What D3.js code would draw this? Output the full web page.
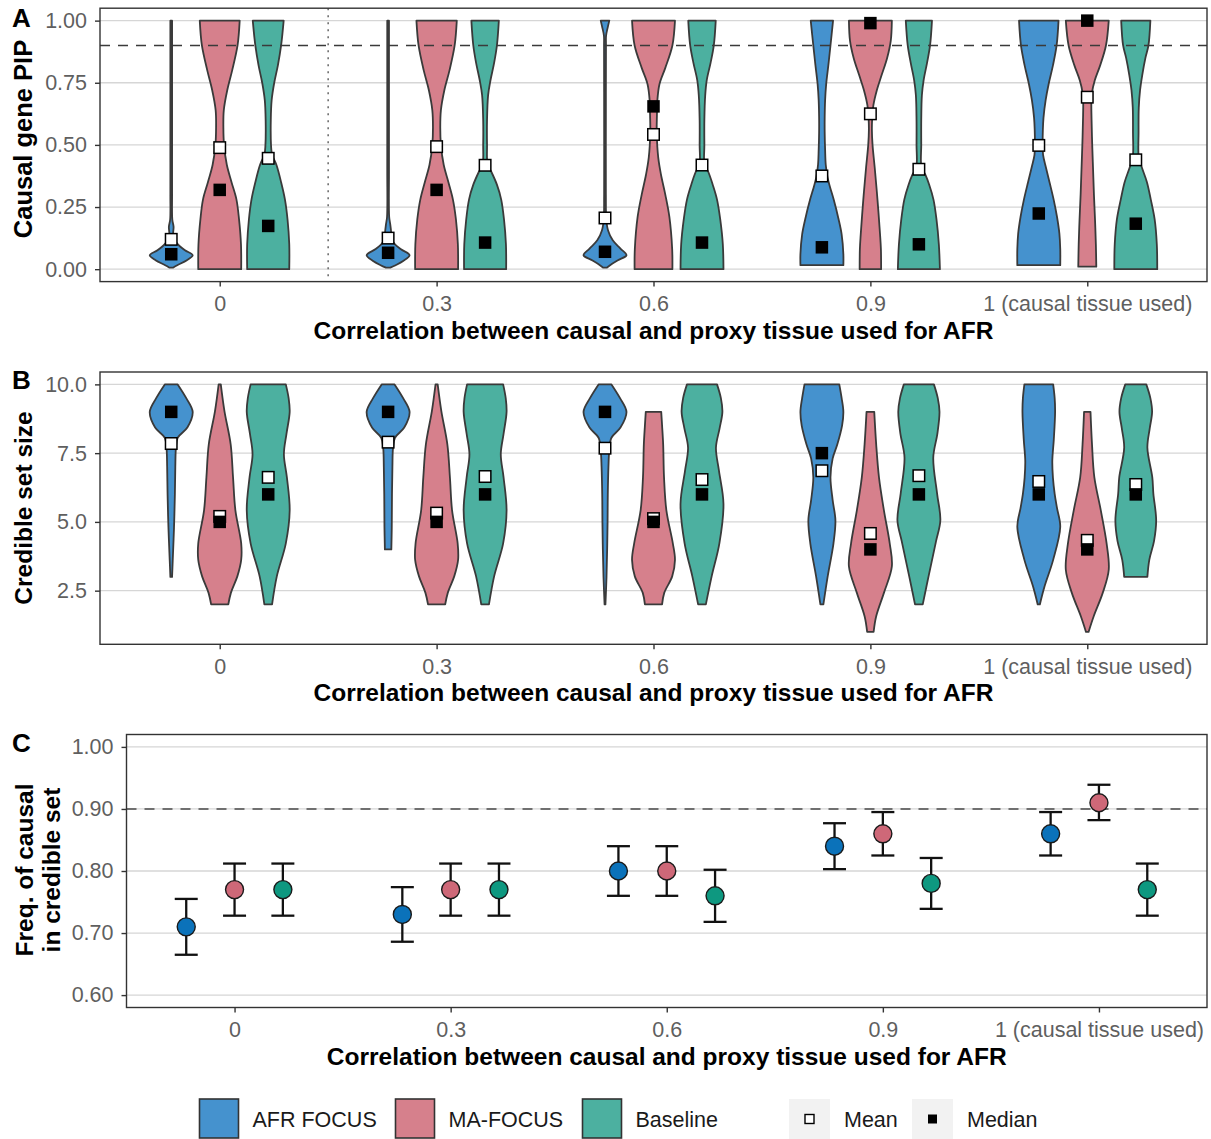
<!DOCTYPE html>
<html>
<head>
<meta charset="utf-8">
<title>FOCUS simulations: proxy tissue correlation</title>
<script src="https://cdn.jsdelivr.net/npm/d3@7/dist/d3.min.js"></script>
<style>
  html, body { margin: 0; padding: 0; background: #ffffff; }
  svg { display: block; }
</style>
</head>
<body>
<svg id="fig" width="1211" height="1139"></svg>
<script>
// ---------------------------------------------------------------- data
const categories = ["0", "0.3", "0.6", "0.9", "1 (causal tissue used)"];
const seriesNames = ["AFR FOCUS", "MA-FOCUS", "Baseline"];
const statNames = ["Mean", "Median"];
const xAxisTitle = "Correlation between causal and proxy tissue used for AFR";

const pipTicks = [0, 0.25, 0.5, 0.75, 1];
const pipTickLabels = ["0.00", "0.25", "0.50", "0.75", "1.00"];
const sizeTicks = [2.5, 5, 7.5, 10];
const sizeTickLabels = ["2.5", "5.0", "7.5", "10.0"];
const freqTicks = [0.6, 0.7, 0.8, 0.9, 1];
const freqTickLabels = ["0.60", "0.70", "0.80", "0.90", "1.00"];
const pipThreshold = 0.9;
const coverageTarget = 0.9;

// Panel A: causal gene PIP. Violin outlines as [PIP, relative half-width].
const pipAfr = [
  [[0.006,0.08],[0.016,0.28],[0.036,0.73],[0.056,1],[0.076,0.64],[0.103,0.28],[0.125,0.14],[0.143,0.09],[0.17,0.11],[0.2,0.05],[0.3,0.04],[0.5,0.04],[0.7,0.04],[0.9,0.04],[1,0.04]],
  [[0.006,0.1],[0.016,0.35],[0.033,0.7],[0.056,1],[0.08,0.6],[0.1,0.32],[0.12,0.16],[0.15,0.14],[0.18,0.1],[0.21,0.05],[0.4,0.04],[0.7,0.04],[1,0.04]],
  [[0.006,0.08],[0.02,0.3],[0.036,0.6],[0.056,1],[0.083,0.72],[0.116,0.36],[0.157,0.14],[0.2,0.06],[0.3,0.04],[0.6,0.04],[0.9,0.045],[0.94,0.05],[0.97,0.12],[1,0.2]],
  [[0.016,1],[0.06,1],[0.14,0.92],[0.2,0.78],[0.28,0.55],[0.33,0.38],[0.37,0.26],[0.42,0.18],[0.48,0.15],[0.55,0.13],[0.61,0.13],[0.68,0.15],[0.745,0.2],[0.82,0.3],[0.9,0.4],[1,0.52]],
  [[0.016,1],[0.08,1],[0.143,0.96],[0.21,0.85],[0.277,0.7],[0.35,0.5],[0.41,0.33],[0.46,0.2],[0.505,0.18],[0.56,0.19],[0.61,0.22],[0.68,0.32],[0.745,0.46],[0.82,0.66],[0.9,0.83],[1,0.92]]
];
const pipMa = [
  [[0,1],[0.1,0.99],[0.2,0.9],[0.28,0.78],[0.35,0.55],[0.42,0.33],[0.5,0.2],[0.57,0.17],[0.64,0.19],[0.72,0.35],[0.8,0.58],[0.9,0.83],[1,0.93]],
  [[0,1],[0.1,0.99],[0.2,0.9],[0.28,0.76],[0.35,0.55],[0.42,0.33],[0.5,0.2],[0.57,0.17],[0.64,0.2],[0.72,0.36],[0.8,0.6],[0.9,0.84],[1,0.94]],
  [[0,0.88],[0.08,0.87],[0.21,0.74],[0.3,0.55],[0.38,0.35],[0.45,0.22],[0.55,0.15],[0.62,0.16],[0.68,0.18],[0.745,0.28],[0.81,0.55],[0.9,0.88],[1,1]],
  [[0,0.5],[0.08,0.49],[0.14,0.45],[0.28,0.33],[0.41,0.2],[0.5,0.1],[0.56,0.07],[0.6,0.08],[0.66,0.14],[0.72,0.3],[0.78,0.52],[0.85,0.78],[0.92,0.95],[1,1]],
  [[0.01,0.42],[0.1,0.4],[0.2,0.36],[0.3,0.31],[0.4,0.27],[0.5,0.23],[0.6,0.2],[0.67,0.19],[0.71,0.22],[0.76,0.35],[0.82,0.6],[0.9,0.87],[1,1]]
];
const pipBase = [
  [[0,0.98],[0.1,0.98],[0.2,0.9],[0.28,0.78],[0.35,0.6],[0.42,0.38],[0.46,0.18],[0.5,0.13],[0.6,0.12],[0.68,0.16],[0.75,0.28],[0.82,0.45],[0.9,0.6],[1,0.72]],
  [[0,0.98],[0.1,0.97],[0.2,0.88],[0.28,0.75],[0.34,0.55],[0.39,0.3],[0.42,0.12],[0.5,0.09],[0.6,0.09],[0.7,0.14],[0.76,0.25],[0.83,0.42],[0.9,0.55],[1,0.64]],
  [[0,1],[0.1,0.97],[0.2,0.85],[0.28,0.7],[0.34,0.5],[0.39,0.3],[0.42,0.12],[0.5,0.11],[0.6,0.11],[0.7,0.15],[0.76,0.22],[0.83,0.4],[0.9,0.55],[1,0.64]],
  [[0,0.98],[0.1,0.93],[0.2,0.82],[0.28,0.68],[0.34,0.48],[0.38,0.3],[0.41,0.12],[0.5,0.11],[0.6,0.11],[0.7,0.14],[0.76,0.22],[0.83,0.38],[0.9,0.52],[1,0.61]],
  [[0,1],[0.1,0.98],[0.2,0.88],[0.28,0.7],[0.35,0.52],[0.41,0.28],[0.45,0.14],[0.55,0.13],[0.65,0.14],[0.72,0.2],[0.78,0.3],[0.85,0.45],[0.9,0.59],[1,0.68]]
];
const pipMeanAfr = [0.12, 0.125, 0.206, 0.375, 0.498];
const pipMeanMa = [0.489, 0.493, 0.542, 0.625, 0.692];
const pipMeanBase = [0.446, 0.418, 0.419, 0.402, 0.44];
const pipMedianAfr = [0.06, 0.066, 0.07, 0.088, 0.224];
const pipMedianMa = [0.319, 0.319, 0.655, 0.99, 1.0];
const pipMedianBase = [0.174, 0.107, 0.107, 0.1, 0.183];

// Panel B: credible set size. Violin outlines as [size, relative half-width].
const sizeAfr = [
  [[3,0.04],[3.6,0.07],[4.8,0.13],[6,0.17],[7,0.19],[7.7,0.22],[8.06,0.3],[8.43,0.75],[9,1],[9.5,0.7],[10,0.3]],
  [[4,0.15],[4.8,0.17],[6,0.18],[7,0.2],[7.7,0.23],[8.06,0.32],[8.43,0.75],[9,1],[9.5,0.7],[10,0.3]],
  [[2,0.02],[3,0.07],[4,0.1],[5,0.12],[6,0.13],[7,0.16],[7.6,0.2],[8.06,0.3],[8.43,0.72],[9,1],[9.5,0.7],[10,0.3]],
  [[2,0.07],[3.02,0.27],[4.22,0.54],[5.06,0.63],[5.8,0.5],[6.62,0.4],[7.3,0.5],[7.82,0.72],[8.5,0.94],[9,1],[9.5,0.92],[10,0.81]],
  [[2,0.05],[2.66,0.27],[3.62,0.67],[4.82,1],[5.5,0.85],[6.02,0.74],[6.6,0.66],[7.22,0.63],[8,0.7],[9,0.76],[9.5,0.74],[10,0.67]]
];
const sizeMa = [
  [[2,0.4],[2.42,0.52],[3.02,0.82],[3.62,1],[4.22,1],[5.42,0.73],[6.62,0.62],[7.82,0.51],[9.03,0.22],[10,0.05]],
  [[2,0.4],[2.42,0.52],[3.02,0.82],[3.62,1],[4.22,0.98],[5.42,0.72],[6.62,0.62],[7.82,0.5],[9.03,0.22],[10,0.05]],
  [[2,0.4],[2.42,0.5],[3.02,0.87],[3.62,1],[4.22,0.9],[5.42,0.6],[6.62,0.49],[7.82,0.45],[8.5,0.4],[9,0.36]],
  [[1,0.15],[1.57,0.27],[2.42,0.63],[3.38,1],[4.22,0.9],[5.42,0.63],[6.62,0.4],[7.82,0.27],[9,0.18]],
  [[1,0.06],[1.57,0.3],[2.42,0.72],[3.26,1],[4.22,0.9],[5.42,0.63],[6.62,0.33],[7.82,0.22],[9,0.15]]
];
const sizeBase = [
  [[2,0.18],[3.02,0.4],[4.22,0.82],[5.42,1],[6.62,0.87],[7.46,0.73],[8.2,0.85],[9,1],[9.5,0.95],[10,0.82]],
  [[2,0.18],[3.02,0.42],[4.22,0.84],[5.42,1],[6.62,0.86],[7.46,0.73],[8.2,0.86],[9,1],[9.5,0.96],[10,0.84]],
  [[2,0.18],[3.02,0.45],[4.22,0.81],[5.66,1],[6.86,0.79],[7.7,0.65],[8.4,0.82],[9,0.95],[9.5,0.88],[10,0.7]],
  [[2,0.18],[3.02,0.45],[4.3,0.8],[5.06,1],[6.02,0.85],[7.34,0.67],[8.2,0.86],[9,0.96],[9.5,0.88],[10,0.7]],
  [[3,0.54],[3.62,0.63],[4.3,0.85],[5.06,0.95],[6.02,0.82],[6.62,0.77],[7.7,0.54],[8.4,0.65],[9,0.76],[9.5,0.68],[10,0.49]]
];
const sizeMeanAfr = [7.85, 7.9, 7.68, 6.86, 6.47];
const sizeMeanMa = [5.2, 5.32, 5.12, 4.58, 4.33];
const sizeMeanBase = [6.62, 6.65, 6.54, 6.68, 6.36];
const sizeMedianAfr = [9, 9, 9, 7.5, 6];
const sizeMedianMa = [5, 5, 5, 4, 4];
const sizeMedianBase = [6, 6, 6, 6, 6];

// Panel C: frequency of the causal gene in the credible set, with 95% intervals.
const freqAfr = [0.71, 0.73, 0.80, 0.84, 0.86];
const freqAfrLow = [0.665, 0.686, 0.760, 0.803, 0.825];
const freqAfrHigh = [0.755, 0.774, 0.840, 0.877, 0.895];
const freqMa = [0.77, 0.77, 0.80, 0.86, 0.91];
const freqMaLow = [0.728, 0.728, 0.760, 0.825, 0.882];
const freqMaHigh = [0.812, 0.812, 0.840, 0.895, 0.939];
const freqBase = [0.77, 0.77, 0.76, 0.78, 0.77];
const freqBaseLow = [0.728, 0.728, 0.718, 0.739, 0.728];
const freqBaseHigh = [0.812, 0.812, 0.802, 0.821, 0.812];

// ---------------------------------------------------------------- style
const FONT = "'Liberation Sans', Arial, Helvetica, sans-serif";
const fills = ["#4592CE", "#D6808C", "#4CB0A0"];
const dotFills = ["#0B72BA", "#CE6878", "#0E9880"];
const INK = "#333333";
const GRID = "#D6D6D6";
const TICK_TEXT = "#5f5f5f";
const TICK_SIZE = 21.5;
const TITLE_SIZE = 24.5;

const svg = d3.select("#fig").style("font-family", FONT);

// shared frame: grid, axes, border; returns scales
function makeFrame(o) {
  const span = o.hi - o.lo;
  const y = d3.scaleLinear()
    .domain([o.lo - 0.05 * span, o.hi + 0.05 * span])
    .range([o.bottom, o.top]);
  const x = d3.scalePoint().domain(categories)
    .range([o.left, o.right]).padding(o.pad);
  const dodge = d3.scalePoint().domain(seriesNames)
    .range([-0.2236 * x.step(), 0.2236 * x.step()]);
  const width = d3.scaleLinear().domain([0, 1]).range([0, 0.099 * x.step()]);

  const g = svg.append("g");
  const layers = {
    grid: g.append("g"),
    marks: g.append("g"),
    over: g.append("g"),
    frame: g.append("g")
  };
  layers.grid.selectAll("line").data(o.ticks).join("line")
    .attr("x1", o.left).attr("x2", o.right)
    .attr("y1", d => y(d)).attr("y2", d => y(d))
    .attr("stroke", GRID).attr("stroke-width", 1.3);

  layers.frame.append("rect")
    .attr("x", o.left).attr("y", o.top)
    .attr("width", o.right - o.left).attr("height", o.bottom - o.top)
    .attr("fill", "none").attr("stroke", INK).attr("stroke-width", 1.4);

  const yAxis = layers.frame.append("g")
    .attr("transform", `translate(${o.left},0)`)
    .call(d3.axisLeft(y).tickValues(o.ticks)
      .tickFormat((d, i) => o.tickLabels[i]).tickSize(5).tickPadding(8));
  const xAxis = layers.frame.append("g")
    .attr("transform", `translate(0,${o.bottom})`)
    .call(d3.axisBottom(x).tickSize(5).tickPadding(9));
  [xAxis, yAxis].forEach(a => {
    a.select(".domain").remove();
    a.selectAll(".tick line").attr("stroke", INK).attr("stroke-width", 1.4);
    a.selectAll(".tick text").attr("fill", TICK_TEXT)
      .style("font-size", TICK_SIZE + "px").style("font-family", FONT);
  });

  // axis titles and panel letter
  layers.frame.append("text")
    .attr("x", (o.left + o.right) / 2).attr("y", o.bottom + 57)
    .attr("text-anchor", "middle").attr("font-weight", "bold")
    .style("font-size", TITLE_SIZE + "px").attr("fill", "#000")
    .text(xAxisTitle);
  const yt = layers.frame.append("text")
    .attr("transform", `translate(${o.titleX},${o.titleY}) rotate(-90)`)
    .attr("text-anchor", "middle").attr("font-weight", "bold")
    .style("font-size", o.titleSize + "px").attr("fill", "#000");
  o.yTitle.forEach((line, i) => {
    yt.append("tspan").attr("x", 0).attr("dy", i === 0 ? 0 : "1.1em").text(line);
  });
  layers.frame.append("text")
    .attr("x", 12).attr("y", o.letterY)
    .attr("font-weight", "bold").style("font-size", "26px").attr("fill", "#000")
    .text(o.letter);

  return { x, y, dodge, width, layers };
}

function violinPanel(o) {
  const f = makeFrame(o);
  const { x, y, dodge, width, layers } = f;
  if (o.extra) o.extra(f, o);
  o.profiles.forEach((series, s) => {
    series.forEach((outline, c) => {
      const cx = x(categories[c]) + dodge(seriesNames[s]);
      const area = d3.area()
        .curve(d3.curveCatmullRom.alpha(0.5))
        .y(d => y(d[0]))
        .x0(d => cx - width(d[1]))
        .x1(d => cx + width(d[1]));
      layers.marks.append("path")
        .attr("d", area(outline))
        .attr("fill", fills[s])
        .attr("stroke", "#3a3a3a").attr("stroke-width", 1.8)
        .attr("stroke-linejoin", "round");
    });
  });
  if (o.threshold !== undefined) {
    layers.over.append("line")
      .attr("x1", o.left).attr("x2", o.right)
      .attr("y1", y(o.threshold)).attr("y2", y(o.threshold))
      .attr("stroke", "#3a3a3a").attr("stroke-width", 1.3)
      .attr("stroke-dasharray", "10,8");
  }
  // mean (open) then median (filled) markers
  const meanSide = 11.5, medianSide = 12.5;
  o.means.forEach((vals, s) => vals.forEach((v, c) => {
    const cx = x(categories[c]) + dodge(seriesNames[s]);
    layers.over.append("rect")
      .attr("x", cx - meanSide / 2).attr("y", y(v) - meanSide / 2)
      .attr("width", meanSide).attr("height", meanSide)
      .attr("fill", "#ffffff").attr("stroke", "#000").attr("stroke-width", 1.5);
  }));
  o.medians.forEach((vals, s) => vals.forEach((v, c) => {
    const cx = x(categories[c]) + dodge(seriesNames[s]);
    layers.over.append("rect")
      .attr("x", cx - medianSide / 2).attr("y", y(v) - medianSide / 2)
      .attr("width", medianSide).attr("height", medianSide)
      .attr("fill", "#000");
  }));
}

// Panel A
violinPanel({
  left: 100, right: 1207, top: 8.2, bottom: 281.6, pad: 0.552,
  lo: 0, hi: 1, ticks: pipTicks, tickLabels: pipTickLabels,
  yTitle: ["Causal gene PIP"], titleX: 32, titleY: 139, titleSize: 25.5,
  letter: "A", letterY: 27,
  profiles: [pipAfr, pipMa, pipBase],
  means: [pipMeanAfr, pipMeanMa, pipMeanBase],
  medians: [pipMedianAfr, pipMedianMa, pipMedianBase],
  threshold: pipThreshold,
  extra: (f, o) => {
    // separator between the uncorrelated setting and the rest
    const xs = (f.x(categories[0]) + f.x(categories[1])) / 2;
    f.layers.grid.append("line")
      .attr("x1", xs).attr("x2", xs).attr("y1", o.top).attr("y2", o.bottom)
      .attr("stroke", "#707070").attr("stroke-width", 1.6)
      .attr("stroke-dasharray", "2,5");
  }
});

// Panel B
violinPanel({
  left: 100, right: 1207, top: 372, bottom: 644.3, pad: 0.552,
  lo: 1, hi: 10, ticks: sizeTicks, tickLabels: sizeTickLabels,
  yTitle: ["Credible set size"], titleX: 32, titleY: 508, titleSize: 24.5,
  letter: "B", letterY: 389,
  profiles: [sizeAfr, sizeMa, sizeBase],
  means: [sizeMeanAfr, sizeMeanMa, sizeMeanBase],
  medians: [sizeMedianAfr, sizeMedianMa, sizeMedianBase]
});

// Panel C
(function () {
  const o = {
    left: 126.5, right: 1207, top: 734.5, bottom: 1007.5, pad: 0.5,
    lo: 0.6, hi: 1.0, ticks: freqTicks, tickLabels: freqTickLabels,
    yTitle: ["Freq. of causal", "in credible set"], titleX: 33, titleY: 870,
    titleSize: 24.5, letter: "C", letterY: 752
  };
  const { x, y, dodge, layers } = makeFrame(o);
  layers.marks.append("line")
    .attr("x1", o.left).attr("x2", o.right)
    .attr("y1", y(coverageTarget)).attr("y2", y(coverageTarget))
    .attr("stroke", "#4a4a4a").attr("stroke-width", 1.4)
    .attr("stroke-dasharray", "10,8");
  const est = [freqAfr, freqMa, freqBase];
  const low = [freqAfrLow, freqMaLow, freqBaseLow];
  const high = [freqAfrHigh, freqMaHigh, freqBaseHigh];
  const cap = 11.5;
  est.forEach((vals, s) => vals.forEach((v, c) => {
    const cx = x(categories[c]) + dodge(seriesNames[s]);
    const eb = layers.marks.append("g")
      .attr("stroke", "#111").attr("stroke-width", 2.3).attr("fill", "none");
    eb.append("line").attr("x1", cx).attr("x2", cx)
      .attr("y1", y(low[s][c])).attr("y2", y(high[s][c]));
    eb.append("line").attr("x1", cx - cap).attr("x2", cx + cap)
      .attr("y1", y(low[s][c])).attr("y2", y(low[s][c]));
    eb.append("line").attr("x1", cx - cap).attr("x2", cx + cap)
      .attr("y1", y(high[s][c])).attr("y2", y(high[s][c]));
  }));
  est.forEach((vals, s) => vals.forEach((v, c) => {
    const cx = x(categories[c]) + dodge(seriesNames[s]);
    layers.over.append("circle")
      .attr("cx", cx).attr("cy", y(v)).attr("r", 9)
      .attr("fill", dotFills[s]).attr("stroke", "#1a1a1a").attr("stroke-width", 1.4);
  }));
})();

// ---------------------------------------------------------------- legend
(function () {
  const lg = svg.append("g");
  const keyY = 1099, keySize = 39, textY = 1126.5;
  const seriesX = [199.5, 395.5, 582.5];
  seriesNames.forEach((name, i) => {
    lg.append("rect")
      .attr("x", seriesX[i]).attr("y", keyY)
      .attr("width", keySize).attr("height", keySize)
      .attr("fill", fills[i]).attr("stroke", INK).attr("stroke-width", 1.6);
    lg.append("text")
      .attr("x", seriesX[i] + keySize + 14).attr("y", textY)
      .style("font-size", "21.5px").attr("fill", "#1a1a1a")
      .text(name);
  });
  const statX = [789, 912];
  statNames.forEach((name, i) => {
    lg.append("rect")
      .attr("x", statX[i]).attr("y", keyY)
      .attr("width", 41).attr("height", 40)
      .attr("fill", "#F2F2F2");
    const side = 9;
    lg.append("rect")
      .attr("x", statX[i] + 20.5 - side / 2).attr("y", keyY + 20 - side / 2)
      .attr("width", side).attr("height", side)
      .attr("fill", i === 0 ? "#ffffff" : "#000")
      .attr("stroke", "#000").attr("stroke-width", i === 0 ? 1.4 : 0);
    lg.append("text")
      .attr("x", statX[i] + 55).attr("y", textY)
      .style("font-size", "21.5px").attr("fill", "#1a1a1a")
      .text(name);
  });
})();
</script>
</body>
</html>
